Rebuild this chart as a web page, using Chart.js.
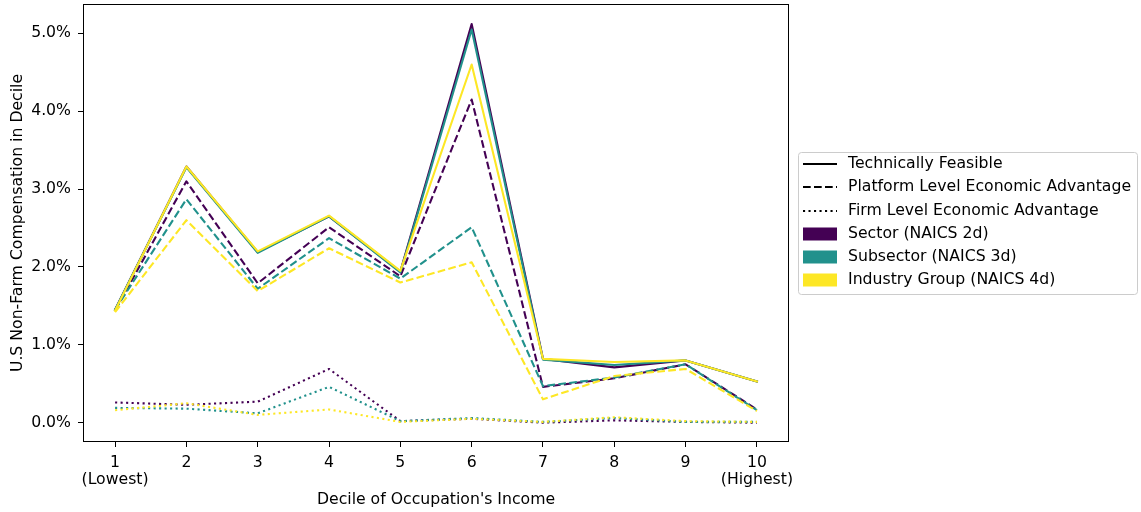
<!DOCTYPE html>
<html>
<head>
<meta charset="utf-8">
<script src="https://cdn.jsdelivr.net/npm/chart.js@4/dist/chart.umd.min.js"></script>
<style>
html,body{margin:0;padding:0;background:#fff;}
#wrap{width:1141px;height:512px;position:relative;}
</style>
</head>
<body>
<div id="wrap"><canvas id="c" width="1141" height="512"></canvas></div>
<script>
// ---- data ----
const deciles = [1, 2, 3, 4, 5, 6, 7, 8, 9, 10];
const xTickLabels = [['1', '(Lowest)'], '2', '3', '4', '5', '6', '7', '8', '9', ['10', '(Highest)']];
const yTickValues = [0, 1, 2, 3, 4, 5];

const techSector = [1.45, 3.29, 2.19, 2.65, 1.94, 5.12, 0.82, 0.71, 0.80, 0.53];
const techSub    = [1.45, 3.28, 2.18, 2.65, 1.93, 5.05, 0.81, 0.74, 0.80, 0.53];
const techInd    = [1.44, 3.29, 2.20, 2.66, 1.95, 4.60, 0.82, 0.78, 0.80, 0.53];

const platSector = [1.44, 3.10, 1.79, 2.51, 1.88, 4.15, 0.46, 0.57, 0.75, 0.17];
const platSub    = [1.45, 2.87, 1.72, 2.37, 1.85, 2.51, 0.47, 0.58, 0.75, 0.16];
const platInd    = [1.42, 2.60, 1.69, 2.24, 1.80, 2.06, 0.30, 0.60, 0.69, 0.15];

const firmSector = [0.26, 0.23, 0.27, 0.69, 0.02, 0.05, 0.00, 0.03, 0.01, 0.00];
const firmSub    = [0.19, 0.18, 0.12, 0.46, 0.02, 0.06, 0.01, 0.06, 0.01, 0.01];
const firmInd    = [0.16, 0.25, 0.10, 0.17, 0.01, 0.05, 0.01, 0.07, 0.02, 0.01];

const measureNames = ['Technically Feasible', 'Platform Level Economic Advantage', 'Firm Level Economic Advantage'];
const levelNames = ['Sector (NAICS 2d)', 'Subsector (NAICS 3d)', 'Industry Group (NAICS 4d)'];

// ---- styles ----
const levelColors = ['#440154', '#21918c', '#fde725'];
const measureDash = [[], [7.7, 3.3], [2.1, 3.4]];
const FONT = "'DejaVu Sans', sans-serif";
const FS = 15.7;

const seriesByLevel = [
  [techSector, platSector, firmSector],
  [techSub, platSub, firmSub],
  [techInd, platInd, firmInd]
];

const datasets = [];
let n = 0;
for (let l = 0; l < 3; l++) {
  for (let m = 0; m < 3; m++) {
    const vals = seriesByLevel[l][m];
    datasets.push({
      label: measureNames[m] + ' - ' + levelNames[l],
      data: deciles.map((d, i) => ({x: d, y: vals[i]})),
      borderColor: levelColors[l],
      backgroundColor: levelColors[l],
      borderWidth: 2.1,
      borderDash: measureDash[m],
      borderCapStyle: m === 0 ? 'square' : 'butt',
      borderJoinStyle: 'round',
      pointRadius: 0,
      tension: 0,
      fill: false,
      order: 100 - n
    });
    n++;
  }
}

const frame = {
  id: 'frame',
  afterDatasetsDraw(chart) {
    const a = chart.chartArea;
    const ctx = chart.ctx;
    ctx.save();
    ctx.strokeStyle = '#000';
    ctx.lineWidth = 1;
    ctx.strokeRect(Math.round(a.left) + 0.5, Math.round(a.top) + 0.5, Math.round(a.right - a.left) - 1, Math.round(a.bottom - a.top) - 1);
    ctx.restore();
  }
};

const legendPlugin = {
  id: 'customLegend',
  afterDraw(chart) {
    const ctx = chart.ctx;
    ctx.save();
    const bx = 798.5, by = 152.5, bw = 339, bh = 142, r = 3;
    ctx.beginPath();
    ctx.moveTo(bx + r, by);
    ctx.lineTo(bx + bw - r, by);
    ctx.arcTo(bx + bw, by, bx + bw, by + r, r);
    ctx.lineTo(bx + bw, by + bh - r);
    ctx.arcTo(bx + bw, by + bh, bx + bw - r, by + bh, r);
    ctx.lineTo(bx + r, by + bh);
    ctx.arcTo(bx, by + bh, bx, by + bh - r, r);
    ctx.lineTo(bx, by + r);
    ctx.arcTo(bx, by, bx + r, by, r);
    ctx.closePath();
    ctx.fillStyle = 'rgba(255,255,255,0.8)';
    ctx.fill();
    ctx.strokeStyle = '#cccccc';
    ctx.lineWidth = 1;
    ctx.stroke();

    const x0 = 803, x1 = 837, tx = 848;
    const ys = [164, 187, 211, 234, 257, 280];
    ctx.font = FS + 'px ' + FONT;
    ctx.textBaseline = 'middle';
    ctx.textAlign = 'left';
    for (let i = 0; i < 3; i++) {
      ctx.beginPath();
      ctx.setLineDash(measureDash[i]);
      ctx.strokeStyle = '#000';
      ctx.lineWidth = 2.1;
      ctx.lineCap = 'butt';
      ctx.moveTo(x0, ys[i]);
      ctx.lineTo(x1, ys[i]);
      ctx.stroke();
      ctx.setLineDash([]);
      ctx.fillStyle = '#000';
      ctx.fillText(measureNames[i], tx, ys[i]);
    }
    for (let i = 0; i < 3; i++) {
      const y = ys[i + 3];
      ctx.fillStyle = levelColors[i];
      ctx.fillRect(x0, y - 6.5, x1 - x0, 13);
      ctx.fillStyle = '#000';
      ctx.fillText(levelNames[i], tx, y);
    }
    ctx.restore();
  }
};

Chart.defaults.font.family = FONT;
Chart.defaults.font.size = FS;
Chart.defaults.color = '#000';

new Chart(document.getElementById('c'), {
  type: 'line',
  data: {datasets},
  options: {
    responsive: false,
    animation: false,
    layout: {padding: {left: 0, top: 4, right: 352, bottom: 0}},
    plugins: {legend: {display: false}, tooltip: {enabled: false}},
    scales: {
      x: {
        type: 'linear',
        min: 0.55,
        max: 10.45,
        afterBuildTicks(scale) { scale.ticks = deciles.map(v => ({value: v})); },
        afterFit(scale) {
          scale.height = 70;
          scale.paddingLeft = 0; scale.paddingRight = 0; scale.paddingTop = 0; scale.paddingBottom = 0;
        },
        ticks: {
          autoSkip: false,
          maxRotation: 0,
          padding: 7,
          color: '#000',
          font: {size: FS, family: FONT, lineHeight: 1.1},
          callback(value) {
            const i = deciles.indexOf(value);
            return i >= 0 ? xTickLabels[i] : '';
          }
        },
        grid: {drawOnChartArea: false, drawTicks: true, tickLength: 5, color: '#000', lineWidth: 1},
        border: {display: false},
        title: {display: true, text: "Decile of Occupation's Income", color: '#000', font: {size: FS, family: FONT}, padding: {top: 0, bottom: 3}}
      },
      y: {
        type: 'linear',
        min: -0.248,
        max: 5.377,
        afterBuildTicks(scale) { scale.ticks = yTickValues.map(v => ({value: v})); },
        afterFit(scale) {
          scale.width = 83;
          scale.paddingLeft = 0; scale.paddingRight = 0; scale.paddingTop = 0; scale.paddingBottom = 0;
        },
        ticks: {
          padding: 7,
          color: '#000',
          font: {size: FS, family: FONT},
          callback(value) { return value.toFixed(1) + '%'; }
        },
        grid: {drawOnChartArea: false, drawTicks: true, tickLength: 5, color: '#000', lineWidth: 1},
        border: {display: false},
        title: {display: true, text: 'U.S Non-Farm Compensation in Decile', color: '#000', font: {size: FS, family: FONT}, padding: {top: 9, bottom: 0}}
      }
    }
  },
  plugins: [frame, legendPlugin]
});
</script>
</body>
</html>
